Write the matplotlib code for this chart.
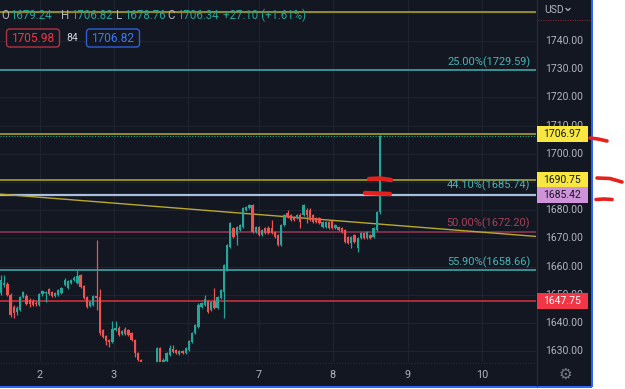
import matplotlib
matplotlib.use('Agg')
import matplotlib.pyplot as plt
import numpy as np
from matplotlib.patches import Rectangle, FancyBboxPatch

# ---------------- data ----------------
opens = [1650.6, 1653.5, 1653.8, 1649.9, 1645.7, 1643.9, 1644.6, 1649.2, 1649.6, 1648.2,
         1647.8, 1647.1, 1646.4, 1650.3, 1650.6, 1652.1, 1651.0, 1649.6, 1649.9, 1650.6,
         1653.5, 1652.4, 1654.2, 1655.3, 1654.2, 1657.0, 1653.1, 1649.2, 1646.0, 1646.4,
         1649.6, 1649.2, 1637.5, 1635.4, 1634.0, 1633.3, 1637.5, 1638.2, 1636.1, 1637.9,
         1637.5, 1636.5, 1634.0, 1629.4, 1626.9, 1625.8, 1624.1, 1622.6, 1624.8, 1625.8,
         1631.1, 1625.8, 1626.5, 1628.7, 1630.8, 1630.4, 1629.0, 1630.1, 1629.4, 1630.4,
         1633.3, 1636.5, 1638.6, 1645.7, 1646.4, 1647.8, 1644.6, 1647.8, 1645.3, 1648.9,
         1651.0, 1658.8, 1667.0, 1673.7, 1671.2, 1673.0, 1674.0, 1680.1, 1680.8, 1681.9,
         1672.3, 1674.0, 1671.2, 1673.7, 1673.7, 1673.7, 1672.3, 1671.2, 1667.7, 1674.8,
         1679.0, 1678.3, 1677.6, 1677.2, 1678.3, 1678.3, 1680.1, 1680.1, 1678.3, 1677.2,
         1677.2, 1674.0, 1674.0, 1675.8, 1676.2, 1673.7, 1674.0, 1673.7, 1673.0, 1670.5,
         1668.4, 1671.2, 1666.6, 1670.1, 1671.9, 1670.1, 1671.2, 1670.5, 1673.0, 1679.24]
highs = [1657.0, 1657.0, 1654.5, 1650.6, 1646.4, 1646.0, 1649.6, 1651.4, 1650.3, 1648.9,
         1648.5, 1647.8, 1650.6, 1651.7, 1651.4, 1652.4, 1651.4, 1651.0, 1652.1, 1652.8,
         1656.0, 1655.3, 1655.6, 1656.7, 1658.8, 1657.4, 1653.5, 1649.6, 1647.8, 1649.9,
         1669.4, 1652.1, 1637.9, 1635.8, 1634.3, 1640.7, 1640.7, 1638.9, 1637.5, 1638.6,
         1637.9, 1636.8, 1634.3, 1629.7, 1627.2, 1626.0, 1624.4, 1625.1, 1626.0, 1631.5,
         1631.5, 1627.6, 1629.7, 1632.2, 1632.2, 1630.8, 1630.4, 1630.4, 1631.5, 1634.0,
         1636.8, 1639.6, 1647.1, 1647.4, 1649.9, 1648.2, 1647.8, 1652.4, 1649.6, 1652.1,
         1661.0, 1668.0, 1675.8, 1674.0, 1674.4, 1675.1, 1681.1, 1681.5, 1682.2, 1682.2,
         1674.4, 1674.4, 1673.3, 1674.0, 1674.4, 1676.5, 1672.6, 1671.6, 1675.1, 1678.7,
         1680.1, 1678.7, 1678.0, 1678.7, 1679.0, 1682.2, 1680.8, 1680.8, 1678.7, 1677.6,
         1677.6, 1676.2, 1676.2, 1676.2, 1676.5, 1675.1, 1674.4, 1674.0, 1673.3, 1670.8,
         1670.8, 1671.6, 1670.5, 1672.3, 1672.3, 1672.6, 1671.6, 1674.0, 1679.7, 1706.82]
lows = [1649.9, 1652.8, 1649.6, 1642.1, 1641.8, 1642.8, 1644.3, 1648.9, 1646.4, 1645.7,
        1646.0, 1646.0, 1646.0, 1649.6, 1647.4, 1649.9, 1649.2, 1649.2, 1649.6, 1650.3,
        1653.1, 1652.1, 1653.8, 1654.9, 1653.8, 1652.4, 1648.5, 1645.3, 1645.7, 1646.0,
        1644.6, 1635.8, 1634.7, 1632.2, 1631.5, 1632.9, 1637.2, 1635.4, 1635.8, 1635.8,
        1635.4, 1633.6, 1628.0, 1626.5, 1625.5, 1623.7, 1622.2, 1622.2, 1624.4, 1625.5,
        1625.5, 1625.5, 1626.2, 1628.3, 1629.4, 1629.0, 1628.7, 1629.0, 1629.0, 1630.1,
        1632.9, 1636.1, 1638.2, 1645.3, 1646.0, 1643.5, 1644.3, 1644.9, 1644.9, 1648.5,
        1641.8, 1658.4, 1666.6, 1670.1, 1667.7, 1672.6, 1673.7, 1679.7, 1680.4, 1672.0,
        1672.0, 1670.8, 1670.8, 1671.6, 1671.6, 1671.6, 1670.1, 1667.3, 1667.3, 1674.4,
        1677.2, 1676.2, 1676.2, 1676.9, 1673.7, 1677.9, 1675.5, 1676.2, 1675.5, 1675.5,
        1675.1, 1673.7, 1673.7, 1673.3, 1673.3, 1673.3, 1672.6, 1672.0, 1668.4, 1668.0,
        1666.6, 1668.4, 1665.2, 1669.8, 1669.8, 1669.8, 1669.8, 1670.1, 1672.6, 1678.76]
closes = [1655.3, 1654.2, 1649.9, 1642.8, 1643.5, 1645.3, 1649.2, 1651.0, 1646.7, 1646.7,
          1646.4, 1646.7, 1650.3, 1651.4, 1651.0, 1650.3, 1649.6, 1650.6, 1651.7, 1652.4,
          1655.3, 1654.9, 1655.3, 1656.0, 1656.7, 1652.8, 1648.9, 1645.7, 1647.4, 1649.6,
          1648.9, 1636.5, 1635.0, 1633.6, 1633.3, 1637.9, 1638.2, 1635.8, 1637.2, 1636.1,
          1635.8, 1634.0, 1629.4, 1626.9, 1625.8, 1624.1, 1622.6, 1624.8, 1625.9, 1631.1,
          1625.8, 1626.9, 1629.4, 1631.1, 1629.7, 1629.4, 1630.1, 1629.4, 1631.1, 1633.6,
          1636.5, 1639.3, 1646.4, 1647.1, 1648.5, 1643.9, 1647.4, 1645.3, 1649.2, 1651.7,
          1660.6, 1667.7, 1675.5, 1670.5, 1674.0, 1674.8, 1680.8, 1681.1, 1681.9, 1672.3,
          1674.0, 1671.2, 1673.0, 1671.9, 1671.9, 1671.9, 1670.5, 1667.7, 1674.8, 1678.3,
          1677.6, 1676.5, 1676.5, 1678.3, 1675.8, 1681.9, 1678.3, 1676.5, 1675.8, 1675.8,
          1675.5, 1675.8, 1675.8, 1673.7, 1673.7, 1674.8, 1673.0, 1672.3, 1668.7, 1668.4,
          1670.5, 1668.7, 1670.1, 1671.9, 1670.1, 1672.3, 1670.1, 1673.7, 1679.4, 1706.34]

day_labels = ['2', '3', '', '7', '8', '9', '10']
day_pos = [12.2, 35.5, 58.7, 81.0, 104.2, 127.8, 151.0]

grid_prices = [1630, 1640, 1650, 1660, 1670, 1680, 1690, 1700, 1710, 1720, 1730, 1740, 1750]
axis_labels = [1630, 1640, 1650, 1660, 1670, 1680, 1700, 1710, 1720, 1730, 1740]

fib_levels = [('25.00%(1729.59)', 1729.59, '#3da6a8', '#4ab5b3'),
              ('44.10%(1685.74)', 1685.74, None, '#4ab5b3'),
              ('50.00%(1672.20)', 1672.20, '#8c3452', '#a8405c'),
              ('55.90%(1658.66)', 1658.66, '#3da6a8', '#4ab5b3')]
olive_levels = [1750.4, 1706.97, 1690.75]
lavender_level = 1685.42
red_level = 1647.75
trend_start = (-0.31, 1685.7)
trend_end = (168.0, 1670.7)

boxes = [('1706.97', 1706.97, '#f7e740', '#131722'),
         ('1690.75', 1690.75, '#f7e740', '#131722'),
         ('1685.42', 1685.42, '#ce93d8', '#131722'),
         ('1647.75', 1647.75, '#f23645', '#ffffff')]

header_parts = [('O', '#b2b5be', 1), ('1679.24', '#26a69a', 7),
                ('H', '#b2b5be', 61), ('1706.82', '#26a69a', 70),
                ('L', '#b2b5be', 116), ('1678.76', '#26a69a', 123),
                ('C', '#b2b5be', 167), ('1706.34', '#26a69a', 177),
                ('+27.10 (+1.61%)', '#26a69a', 223)]

# ---------------- figure ----------------
W, H = 625, 389
FONT = 'Roboto'
BG = '#131722'
GRID = '#1f2330'
TXT = '#b2b5be'

fig = plt.figure(figsize=(W / 100, H / 100), dpi=100)
fig.patch.set_facecolor('white')

bgax = fig.add_axes([0, 0, 1, 1], zorder=0)
bgax.set_xlim(0, W); bgax.set_ylim(H, 0); bgax.axis('off')
bgax.add_patch(Rectangle((0, 0), 592, 386, color=BG, lw=0))
bgax.plot([592, 592], [0, 386.5], color='#2962ff', lw=1.4, solid_capstyle='butt')
bgax.plot([0, 592], [386.5, 386.5], color='#2962ff', lw=1.4, solid_capstyle='butt')
bgax.plot([536.5, 536.5], [0, 386], color='#2a2e39', lw=0.8)
bgax.plot([0, 536], [362.5, 362.5], color='#2a2e39', lw=0.8, ls=(0, (1, 1.5)))

ymin, ymax = 1626.17, 1754.54
ax = fig.add_axes([0, 1 - 362 / H, 536 / W, 362 / H], zorder=1)
ax.set_facecolor('none')
ax.set_xlim(-0.31, 168.0)
ax.set_ylim(ymin, ymax)
for s in ax.spines.values():
    s.set_visible(False)
ax.set_xticks(day_pos, day_labels)
ax.set_yticks(grid_prices)
ax.tick_params(axis='x', length=0, pad=6, labelcolor=TXT, labelsize=7.8)
ax.tick_params(axis='y', length=0, labelleft=False)
for lab in ax.get_xticklabels():
    lab.set_fontfamily(FONT)
ax.grid(True, color=GRID, lw=0.8)
ax.set_axisbelow(True)

# level lines
for name, lvl, lc, tc in fib_levels:
    if lc:
        ax.axhline(lvl, color=lc, lw=1.2, zorder=2)
ax.axhline(lavender_level, color='#a9bfe0', lw=1.6, zorder=2)
for lvl in olive_levels:
    ax.axhline(lvl, color='#9e962a', lw=1.3, zorder=2)
ax.axhline(closes[-1], color='#26a69a', lw=0.8, ls=(0, (1, 1.5)), zorder=2)
ax.axhline(red_level, color='#cf2f3c', lw=1.2, zorder=2)
ax.plot([trend_start[0], trend_end[0]], [trend_start[1], trend_end[1]],
        color='#b9a92c', lw=1.0, zorder=2)

for name, lvl, lc, tc in fib_levels:
    ax.text(0.989, lvl + 1.0, name, transform=ax.get_yaxis_transform(),
            ha='right', va='bottom', color=tc, fontsize=7.9, fontfamily=FONT, zorder=4)

# candles
o = np.array(opens); h = np.array(highs); l = np.array(lows); c = np.array(closes)
x = np.arange(len(o))
up = c >= o
cols = np.where(up, '#26a69a', '#ef5350')
ax.vlines(x, l, h, colors=cols, lw=0.9, zorder=3)
body_lo = np.minimum(o, c)
body_h = np.maximum(np.abs(c - o), 0.35)
ax.bar(x, body_h, bottom=body_lo, width=0.72, color=cols, lw=0, zorder=3)

# price axis
pax = fig.add_axes([536 / W, 1 - 362 / H, 56 / W, 362 / H], zorder=2)
pax.set_facecolor('none')
pax.set_xlim(0, 56); pax.set_ylim(ymin, ymax); pax.axis('off')
for p in axis_labels:
    pax.text(28, p, f'{p:.2f}', ha='center', va='center', color=TXT,
             fontsize=7.5, fontfamily=FONT, clip_on=True)
for txt, lvl, fc, tcol in boxes:
    pax.add_patch(Rectangle((0.5, lvl - 2.95), 51.5, 5.9, color=fc, lw=0, zorder=5))
    pax.text(26.5, lvl, txt, ha='center', va='center', color=tcol,
             fontsize=7.5, fontfamily=FONT, zorder=6)

# overlay (header, axis decorations, annotations) in pixel coordinates
ov = fig.add_axes([0, 0, 1, 1], zorder=10)
ov.set_xlim(0, W); ov.set_ylim(H, 0); ov.axis('off'); ov.set_facecolor('none')

renderer = fig.canvas.get_renderer()
prev_end = -10
for txt, col, px in header_parts:
    pos = max(px, prev_end + 1.5)
    t = ov.text(pos, 15.5, txt, ha='left', va='center', color=col, fontsize=8.3, fontfamily=FONT)
    bb = t.get_window_extent(renderer=renderer)
    prev_end = bb.x1

ov.add_patch(FancyBboxPatch((6.5, 29), 53, 18, boxstyle='round,pad=0,rounding_size=3',
                            fc=BG, ec='#b2323f', lw=1.0))
ov.text(33, 38.2, '1705.98', ha='center', va='center', color='#f23645', fontsize=8.6, fontfamily=FONT)
ov.text(72.5, 38.2, '84', ha='center', va='center', color='#d1d4dc', fontsize=7.5, fontfamily=FONT)
ov.add_patch(FancyBboxPatch((86.5, 29), 53, 18, boxstyle='round,pad=0,rounding_size=3',
                            fc=BG, ec='#2f5fd6', lw=1.0))
ov.text(113, 38.2, '1706.82', ha='center', va='center', color='#3d7bf0', fontsize=8.6, fontfamily=FONT)

ov.text(544, 10, 'USD', ha='left', va='center', color=TXT, fontsize=7.5, fontfamily=FONT)
ov.plot([566, 568, 570], [8.5, 10.5, 8.5], color=TXT, lw=0.9)
ov.plot([538, 590], [19.5, 19.5], color='#8b2f36', lw=0.7, ls=(0, (1, 1.5)))
ov.text(565, 374, '\u2699', ha='center', va='center', color='#787b86', fontsize=11,
        fontfamily='DejaVu Sans')

# red hand-drawn marks
RED = '#e8201c'
ov.plot([590, 598, 607], [138, 139, 141], color=RED, lw=2.6, solid_capstyle='round')
ov.plot([597, 610, 622], [178, 178.5, 182], color=RED, lw=2.6, solid_capstyle='round')
ov.plot([596, 604, 612], [199.5, 199, 199.5], color=RED, lw=2.6, solid_capstyle='round')
ov.plot([369, 380, 391], [179, 178.5, 180], color=RED, lw=3.2, solid_capstyle='round')
ov.plot([365, 378, 390], [193, 193.5, 194], color=RED, lw=3.2, solid_capstyle='round')

fig.savefig('out.png', dpi=100, facecolor=fig.get_facecolor())
